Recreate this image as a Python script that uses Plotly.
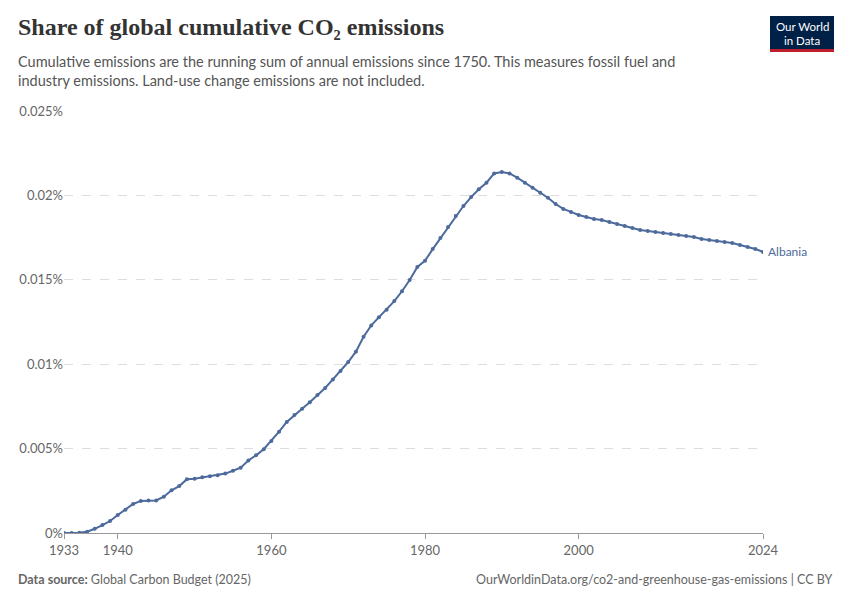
import plotly.graph_objects as go

years = list(range(1933, 2025))
share = [
    0.0, 0.0, 0.00002, 0.00008, 0.00025, 0.00047, 0.00071, 0.00107, 0.00138, 0.00172,
    0.0019, 0.00192, 0.00193, 0.00215, 0.00253, 0.00278, 0.00318, 0.00322, 0.0033, 0.00336,
    0.00342, 0.00352, 0.00369, 0.00387, 0.0043, 0.0046, 0.00496, 0.00545, 0.006, 0.00658,
    0.00699, 0.00736, 0.00774, 0.00817, 0.00859, 0.0091, 0.0096, 0.01013, 0.01074, 0.01163,
    0.0123, 0.01278, 0.01323, 0.01374, 0.01432, 0.01499, 0.01576, 0.01613, 0.01682, 0.01747,
    0.01813, 0.01878, 0.01937, 0.0199, 0.02036, 0.02075, 0.0213, 0.02138, 0.0213, 0.02105,
    0.02075, 0.02046, 0.02016, 0.01986, 0.01949, 0.0192, 0.01902, 0.01884, 0.01872, 0.0186,
    0.01854, 0.01842, 0.0183, 0.01819, 0.01807, 0.01795, 0.01789, 0.01783, 0.01777, 0.01771,
    0.01766, 0.0176, 0.01754, 0.01742, 0.01736, 0.0173, 0.01724, 0.01718, 0.01706, 0.01695,
    0.01683, 0.01665,
]
x_ticks = [1933, 1940, 1960, 1980, 2000, 2024]
y_ticks = [0, 0.005, 0.01, 0.015, 0.02, 0.025]
y_labels = ["0%", "0.005%", "0.01%", "0.015%", "0.02%", "0.025%"]

color = "#4c6a9c"
fig = go.Figure()
fig.add_trace(go.Scatter(x=years, y=share, mode="lines+markers", name="Albania",
                         line=dict(color=color, width=2), marker=dict(size=4, color=color)))
fig.add_annotation(x=years[-1], y=share[-1], text="Albania", showarrow=False,
                   xanchor="left", xshift=3, font=dict(size=12, color=color, family="Lato"))

grey = "#666"
fig.update_layout(
    width=850, height=600, plot_bgcolor="white", paper_bgcolor="white",
    margin=dict(l=56, r=95, t=103, b=75, autoexpand=False), showlegend=False,
    font=dict(family="Lato", color=grey),
    xaxis=dict(range=[1933, 2024], tickvals=x_ticks, showgrid=False, showline=True,
               linecolor="#999", ticks="outside", tickcolor="#999", ticklen=5,
               tickfont=dict(size=13, color=grey)),
    yaxis=dict(range=[0, 0.025], tickvals=y_ticks, ticktext=y_labels, gridcolor="#ddd",
               griddash="dash", zeroline=False, tickfont=dict(size=13, color=grey)),
)

# paper coordinates: plot is 699 px wide, 422 px tall
def px(xp, yp):
    return (xp - 56) / 699, (525 - yp) / 422

x, y = px(8, 4)
fig.add_annotation(xref="paper", yref="paper", x=x, y=y, xanchor="left", yanchor="top",
                   showarrow=False, text="<b>Share of global cumulative CO₂ emissions</b>",
                   font=dict(family="Liberation Serif, serif", size=24, color="#333"))
x, y = px(8, 43)
fig.add_annotation(xref="paper", yref="paper", x=x, y=y, xanchor="left", yanchor="top",
                   showarrow=False, align="left",
                   text="Cumulative emissions are the running sum of annual emissions since 1750. This measures fossil fuel and<br>industry emissions. Land-use change emissions are not included.",
                   font=dict(size=14.5, color="#555"))
x, y = px(8, 562)
fig.add_annotation(xref="paper", yref="paper", x=x, y=y, xanchor="left", yanchor="top",
                   showarrow=False, text="<b>Data source:</b> Global Carbon Budget (2025)",
                   font=dict(size=12.5, color=grey))
x, y = px(826, 562)
fig.add_annotation(xref="paper", yref="paper", x=x, y=y, xanchor="right", yanchor="top",
                   showarrow=False, text="OurWorldinData.org/co2-and-greenhouse-gas-emissions | CC BY",
                   font=dict(size=12.5, color=grey))
x0, y1 = px(762, 8)
x1, y0 = px(826, 41)
fig.add_shape(type="rect", xref="paper", yref="paper", x0=x0, x1=x1, y0=y0, y1=y1,
              fillcolor="#002147", line_width=0)
_, y2 = px(0, 44)
fig.add_shape(type="rect", xref="paper", yref="paper", x0=x0, x1=x1, y0=y2, y1=y0,
              fillcolor="#be1e2d", line_width=0)
for label, ly in [("Our World", 18), ("in Data", 32)]:
    _, yy = px(0, ly)
    fig.add_annotation(xref="paper", yref="paper", x=(x0 + x1) / 2, y=yy, showarrow=False,
                       xanchor="center", yanchor="middle",
                       text=label, font=dict(size=11.5, color="white"))
fig.write_html("out.html")
